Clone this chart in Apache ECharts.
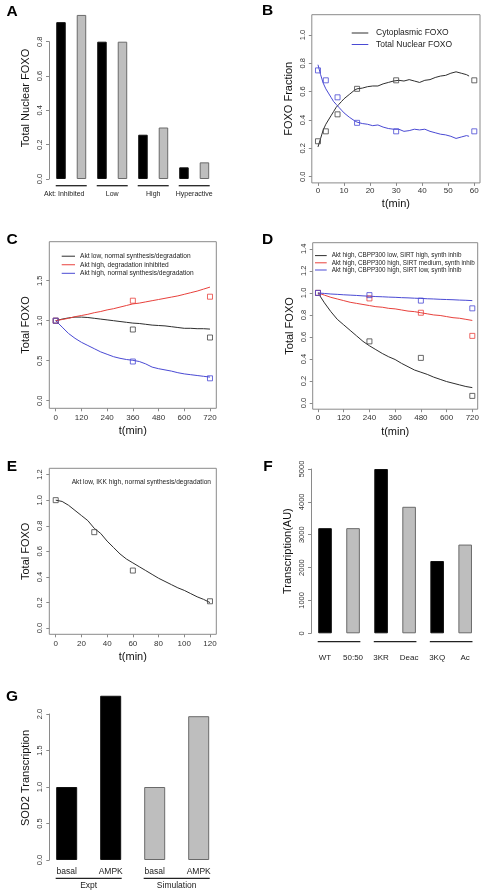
<!DOCTYPE html>
<html><head><meta charset="utf-8">
<script src="https://cdn.jsdelivr.net/npm/echarts@6/dist/echarts.min.js"></script>
<style>html,body{margin:0;padding:0;background:#fff}#c{width:482px;height:893px}</style>
</head><body><div id="c"></div>
<script>
// ---------- DATA ----------
// Panel A
const aValues = [0.914, 0.956, 0.80, 0.80, 0.258, 0.30, 0.068, 0.097];
const aGroupLabels = ['Akt: Inhibited','Low','High','Hyperactive'];
// Panel B
const bTime = [0,1,2,3,4,5,6,7,8,9,10,12,14,15,17,19,21,23,25,27,29,31,33,35,37,39,41,43,45,47,49,51,53,55,57,58];
const bCyto = [0.21,0.27,0.33,0.37,0.40,0.43,0.46,0.49,0.51,0.53,0.55,0.58,0.61,0.62,0.625,0.635,0.64,0.64,0.655,0.665,0.675,0.68,0.675,0.685,0.675,0.665,0.68,0.685,0.70,0.71,0.715,0.73,0.74,0.73,0.72,0.71];
const bNuc = [0.79,0.72,0.66,0.62,0.59,0.56,0.53,0.51,0.49,0.47,0.45,0.42,0.395,0.385,0.375,0.37,0.36,0.365,0.35,0.34,0.335,0.335,0.32,0.325,0.335,0.33,0.335,0.32,0.31,0.30,0.295,0.285,0.27,0.28,0.29,0.285];
const bObsTime = [0,3,7.5,15,30,60];
const bObsCyto = [0.25,0.32,0.44,0.62,0.68,0.68];
const bObsNuc = [0.75,0.68,0.56,0.38,0.32,0.32];
const bXTicks = [0,10,20,30,40,50,60];
const bYTicks = [0,0.2,0.4,0.6,0.8,1.0];
// Panel C
const cTime = [0,30,60,90,120,150,180,210,240,270,300,330,360,390,420,450,480,510,540,570,600,630,660,690,720];
const cAktLow = [1.0,1.02,1.035,1.045,1.045,1.04,1.03,1.02,1.01,1.0,0.99,0.98,0.97,0.965,0.955,0.945,0.94,0.935,0.925,0.915,0.905,0.905,0.9,0.9,0.895];
const cDegInh = [1.0,1.015,1.03,1.05,1.065,1.08,1.10,1.115,1.135,1.15,1.17,1.19,1.21,1.22,1.235,1.25,1.265,1.28,1.295,1.31,1.33,1.35,1.37,1.395,1.42];
const cAktHigh = [1.0,0.92,0.84,0.78,0.73,0.69,0.65,0.61,0.58,0.55,0.53,0.515,0.505,0.49,0.46,0.42,0.40,0.385,0.37,0.35,0.335,0.325,0.315,0.305,0.295];
const cObsTime = [0,360,720];
const cObsAktLow = [1.0,0.89,0.79];
const cObsDegInh = [1.0,1.25,1.30];
const cObsAktHigh = [1.0,0.49,0.28];
const cXTicks = [0,120,240,360,480,600,720];
const cYTicks = [0,0.5,1.0,1.5];
// Panel D
const dTime = [0,30,60,90,120,150,180,210,240,270,300,330,360,390,420,450,480,510,540,570,600,630,660,690,720];
const dSirtHigh = [1.0,0.91,0.83,0.76,0.71,0.66,0.61,0.56,0.52,0.485,0.45,0.42,0.395,0.36,0.33,0.30,0.28,0.26,0.235,0.215,0.195,0.18,0.165,0.15,0.14];
const dSirtMed = [1.0,0.98,0.96,0.945,0.93,0.915,0.905,0.895,0.885,0.875,0.87,0.86,0.855,0.845,0.835,0.83,0.82,0.81,0.80,0.795,0.785,0.775,0.77,0.76,0.75];
const dSirtLow = [1.0,0.995,0.99,0.987,0.983,0.98,0.977,0.973,0.97,0.967,0.965,0.962,0.96,0.957,0.955,0.952,0.95,0.947,0.945,0.942,0.94,0.938,0.935,0.933,0.93];
const dObsTime = [0,240,480,720];
const dObsSirtHigh = [1.0,0.56,0.41,0.065];
const dObsSirtMed = [1.0,0.95,0.82,0.61];
const dObsSirtLow = [1.0,0.98,0.93,0.86];
const dXTicks = [0,120,240,360,480,600,720];
const dYTicks = [0,0.2,0.4,0.6,0.8,1.0,1.2,1.4];
// Panel E
const eTime = [0,5,10,15,20,25,30,35,40,45,50,55,60,65,70,75,80,85,90,95,100,105,110,115,120];
const eIkkHigh = [1.0,0.99,0.96,0.92,0.88,0.84,0.78,0.74,0.68,0.63,0.58,0.54,0.51,0.48,0.45,0.42,0.39,0.365,0.34,0.315,0.295,0.27,0.245,0.225,0.20];
const eObsTime = [0,30,60,120];
const eObsIkkHigh = [1.0,0.75,0.45,0.21];
const eXTicks = [0,20,40,60,80,100,120];
const eYTicks = [0,0.2,0.4,0.6,0.8,1.0,1.2];
// Panel F
const fCategories = ['WT','50:50','3KR','Deac','3KQ','Ac'];
const fValues = [3200,3200,5000,3850,2200,2700];
// Panel G
const gCategories = ['basal','AMPK','basal','AMPK'];
const gValues = [1.0,2.25,1.0,1.97];
const gGroupLabels = ['Expt','Simulation'];

// ---------- STYLE ----------
const FONT = '"Liberation Sans", Arial, Helvetica, sans-serif';
const AX = '#8a8a8a', TXT = '#333';
const C_BLACK = '#2e2e2e', C_RED = '#e8413c', C_BLUE = '#4a4ad4';
const BAR_DARK = '#000', BAR_LIGHT = '#bebebe', BAR_EDGE = '#6a6a6a';
const fmt1 = v => v.toFixed(1);
const zip = (xs, ys) => xs.map((x, i) => [x, ys[i]]);

const chart = echarts.init(document.getElementById('c'), null, {renderer: 'canvas'});

const grids = [
  {left: 49, top: 41.7, width: 165.7, height: 137.3},                   // 0 A
  {left: 311.8, top: 14.7, width: 168.2, height: 168.2, show: true},    // 1 B (box)
  {left: 49.3, top: 241.7, width: 167, height: 166.6, show: true},      // 2 C (box)
  {left: 312.7, top: 242.7, width: 165, height: 166.5, show: true},     // 3 D (box)
  {left: 49.3, top: 468.3, width: 167, height: 166, show: true},        // 4 E (box)
  {left: 311, top: 469, width: 168.2, height: 164.3},                   // 5 F
  {left: 49.3, top: 714, width: 171.4, height: 146}                     // 6 G
].map(g => Object.assign({borderColor: AX, borderWidth: 1, backgroundColor: 'transparent'}, g));

const tickStyle = {show: true, length: 3, inside: false, lineStyle: {color: AX}};
const nameStyle = {fontSize: 11, color: '#111', fontFamily: FONT};

function timeAxis(gridIndex, min, max, ticks, margin, nameGap) {
  return {type: 'value', gridIndex, min, max, position: 'bottom',
    axisLine: {show: false, onZero: false}, splitLine: {show: false},
    axisTick: Object.assign({customValues: ticks}, tickStyle),
    axisLabel: {customValues: ticks, fontSize: 8, color: TXT, fontFamily: FONT, margin},
    name: 't(min)', nameLocation: 'middle', nameGap, nameTextStyle: nameStyle};
}
function boxedY(gridIndex, min, max, ticks, name) {
  return {type: 'value', gridIndex, min, max, position: 'left',
    axisLine: {show: false, onZero: false}, splitLine: {show: false},
    axisTick: Object.assign({customValues: ticks}, tickStyle),
    axisLabel: {customValues: ticks, fontSize: 7.5, color: TXT, fontFamily: FONT, rotate: 90, margin: 5, formatter: fmt1},
    name, nameLocation: 'middle', nameGap: 17.5, nameTextStyle: nameStyle};
}
function plainY(gridIndex, max, interval, name, shift, fmt) {
  return {type: 'value', gridIndex, min: 0, max, interval, position: 'left',
    axisLine: {show: true, onZero: false, lineStyle: {color: AX}}, splitLine: {show: false},
    axisTick: tickStyle,
    axisLabel: {fontSize: 7.5, color: TXT, fontFamily: FONT, rotate: 90, margin: 5, formatter: fmt},
    name, nameLocation: 'middle', nameGap: 17.5,
    nameTextStyle: Object.assign({padding: [0, 0, 0, shift]}, nameStyle)};
}
// value axis for bar positions (bar k sits at x = k); labels at chosen positions
function barPosAxis(gridIndex, min, max, labelPos, labelOf, margin, fontSize) {
  return {type: 'value', gridIndex, min, max, position: 'bottom',
    axisLine: {show: false, onZero: false}, axisTick: {show: false}, splitLine: {show: false},
    axisLabel: {show: true, customValues: labelPos, fontSize, color: '#222', fontFamily: FONT, margin,
      showMinLabel: true, showMaxLabel: true, formatter: labelOf,
      rich: {shift: {padding: [0, 14, 0, 0], fontSize, color: '#222', fontFamily: FONT}}}};
}
function barStyle(dark) {
  return dark ? {color: BAR_DARK, borderColor: '#111', borderWidth: 1}
              : {color: BAR_LIGHT, borderColor: BAR_EDGE, borderWidth: 1};
}
function lineSeries(name, xi, yi, xs, ys, color) {
  return {type: 'line', name, xAxisIndex: xi, yAxisIndex: yi, data: zip(xs, ys), showSymbol: false,
    symbol: 'none', itemStyle: {color}, lineStyle: {color, width: 1}, z: 3};
}
function obsSeries(name, xi, yi, xs, ys, color) {
  return {type: 'scatter', name, xAxisIndex: xi, yAxisIndex: yi, data: zip(xs, ys), symbol: 'rect',
    symbolSize: 5, itemStyle: {color: 'rgba(0,0,0,0)', borderColor: color, borderWidth: 1}, z: 4};
}
function legendBlock(names, left, top, itemWidth, fontSize, itemGap, textShift) {
  return {data: names, left, top, orient: 'vertical', icon: 'rect', itemWidth, itemHeight: 1, itemGap,
    padding: 0, selectedMode: false,
    textStyle: {fontSize, color: '#222', fontFamily: FONT, padding: [0, 0, 0, textShift || 0]}};
}

const cNames = ['Akt low, normal synthesis/degradation','Akt high, degradation inhibited','Akt high, normal synthesis/degradation'];
const dNames = ['Akt high, CBPP300 low, SIRT high, synth inhib','Akt high, CBPP300 high, SIRT medium, synth inhib','Akt high, CBPP300 high, SIRT low, synth inhib'];

// bar positions (index k) and group-centre label positions derived from the bar counts
const aPos = aValues.map((_, k) => k);
const aGroupPos = aGroupLabels.map((_, k) => 2 * k + 0.5);
const gPos = gValues.map((_, k) => k);
const gGroupPos = gGroupLabels.map((_, k) => 2 * k + 0.5);
const groupIndex = v => Math.round((v - 0.5) / 2);

const option = {
  animation: false,
  backgroundColor: '#fff',
  textStyle: {fontFamily: FONT},
  grid: grids,
  xAxis: [
    barPosAxis(0, -0.585, 7.5, aGroupPos,
      v => { const k = groupIndex(v); return k === 0 ? '{shift|' + aGroupLabels[k] + '}' : aGroupLabels[k]; }, 11.5, 7), // 0 A
    timeAxis(1, -2.38, 62.19, bXTicks, 4, 15.3),        // 1 B
    timeAxis(2, -29.9, 749.4, cXTicks, 5, 17.2),        // 2 C
    timeAxis(3, -24.7, 745.2, dXTicks, 4.2, 17),        // 3 D
    timeAxis(4, -4.98, 124.9, eXTicks, 5.5, 17.2),      // 4 E
    {type: 'category', gridIndex: 5, data: fCategories, position: 'bottom',
      axisLine: {show: false, onZero: false}, axisTick: {show: false}, splitLine: {show: false},
      axisLabel: {fontSize: 8, color: '#222', fontFamily: FONT, margin: 20.5, interval: 0}}, // 5 F
    barPosAxis(6, -0.395, 3.5, gPos, v => gCategories[Math.round(v)], 7.5, 8.5),        // 6 G bars
    barPosAxis(6, -0.395, 3.5, gGroupPos, v => gGroupLabels[groupIndex(v)], 21.5, 8.5) // 7 G groups
  ],
  yAxis: [
    plainY(0, 0.8, 0.2, 'Total Nuclear FOXO', 24.7, fmt1),           // 0 A
    boxedY(1, -0.0438, 1.143, bYTicks, 'FOXO Fraction'),             // 1 B
    boxedY(2, -0.095, 1.9875, cYTicks, 'Total FOXO'),                // 2 C
    boxedY(3, -0.056, 1.456, dYTicks, 'Total FOXO'),                 // 3 D
    boxedY(4, -0.048, 1.249, eYTicks, 'Total FOXO'),                 // 4 E
    plainY(5, 5000, 1000, 'Transcription(AU)', 0, v => String(v)),   // 5 F
    plainY(6, 2.0, 0.5, 'SOD2 Transcription', 18, fmt1)              // 6 G
  ],
  legend: [
    legendBlock(['Cytoplasmic FOXO','Total Nuclear FOXO'], 351.7, 28.5, 16.6, 8.5, 2.5, 2.7),
    legendBlock(cNames, 61.7, 252.7, 13.3, 6.6, 1.55),
    legendBlock(dNames, 315, 252.6, 11.7, 6.3, 1.2)
  ],
  series: [
    {type: 'bar', name: 'Total Nuclear FOXO (A)', xAxisIndex: 0, yAxisIndex: 0, barWidth: 9.5, clip: false,
      data: aValues.map((v, i) => ({value: [aPos[i], v], itemStyle: barStyle(i % 2 === 0)}))},
    lineSeries('Cytoplasmic FOXO', 1, 1, bTime, bCyto, C_BLACK),
    lineSeries('Total Nuclear FOXO', 1, 1, bTime, bNuc, C_BLUE),
    obsSeries('Cytoplasmic FOXO (data)', 1, 1, bObsTime, bObsCyto, '#444'),
    obsSeries('Total Nuclear FOXO (data)', 1, 1, bObsTime, bObsNuc, C_BLUE),
    lineSeries(cNames[0], 2, 2, cTime, cAktLow, C_BLACK),
    lineSeries(cNames[1], 2, 2, cTime, cDegInh, C_RED),
    lineSeries(cNames[2], 2, 2, cTime, cAktHigh, C_BLUE),
    obsSeries(cNames[0] + ' (data)', 2, 2, cObsTime, cObsAktLow, '#444'),
    obsSeries(cNames[1] + ' (data)', 2, 2, cObsTime, cObsDegInh, C_RED),
    obsSeries(cNames[2] + ' (data)', 2, 2, cObsTime, cObsAktHigh, C_BLUE),
    lineSeries(dNames[0], 3, 3, dTime, dSirtHigh, C_BLACK),
    lineSeries(dNames[1], 3, 3, dTime, dSirtMed, C_RED),
    lineSeries(dNames[2], 3, 3, dTime, dSirtLow, C_BLUE),
    obsSeries(dNames[0] + ' (data)', 3, 3, dObsTime, dObsSirtHigh, '#444'),
    obsSeries(dNames[1] + ' (data)', 3, 3, dObsTime, dObsSirtMed, C_RED),
    obsSeries(dNames[2] + ' (data)', 3, 3, dObsTime, dObsSirtLow, C_BLUE),
    lineSeries('Akt low, IKK high, normal synthesis/degradation', 4, 4, eTime, eIkkHigh, C_BLACK),
    obsSeries('Akt low, IKK high (data)', 4, 4, eObsTime, eObsIkkHigh, '#444'),
    {type: 'bar', name: 'Transcription(AU)', xAxisIndex: 5, yAxisIndex: 5, barWidth: 13.6, clip: false,
      data: fValues.map((v, i) => ({value: v, itemStyle: barStyle(i % 2 === 0)}))},
    {type: 'bar', name: 'SOD2 Transcription', xAxisIndex: 6, yAxisIndex: 6, barWidth: 21, clip: false,
      data: gValues.map((v, i) => ({value: [gPos[i], v], itemStyle: barStyle(i < 2)}))}
  ]
};
chart.setOption(option);

// ---------- annotations (letters, underlines, panel text) ----------
const gfx = [];
function letter(t, x, y) {
  gfx.push({type: 'text', x, y, style: {text: t, font: 'bold 15.5px ' + FONT, fill: '#000', align: 'center', verticalAlign: 'middle'}});
}
letter('A', 12, 12); letter('B', 267.5, 10.5); letter('C', 12, 240); letter('D', 267.5, 240);
letter('E', 12, 466.5); letter('F', 268, 467); letter('G', 12, 697);
gfx.push({type: 'text', x: 211, y: 482.3, style: {text: 'Akt low, IKK high, normal synthesis/degradation',
  font: '6.6px ' + FONT, fill: '#222', align: 'right', verticalAlign: 'middle'}});

function underline(finder, pairs, halfW, dy) {
  pairs.forEach(([i, j]) => {
    const p1 = chart.convertToPixel(finder, [i, 0]);
    const p2 = chart.convertToPixel(finder, [j, 0]);
    const y = p1[1] + dy;
    gfx.push({type: 'line', shape: {x1: p1[0] - halfW, y1: y, x2: p2[0] + halfW, y2: y},
      style: {stroke: '#222', lineWidth: 1.3}});
  });
}
underline({xAxisIndex: 0, yAxisIndex: 0}, [[0,1],[2,3],[4,5],[6,7]], 5.25, 6.7);
underline({xAxisIndex: 5, yAxisIndex: 5}, [[0,1],[2,3],[4,5]], 7.3, 8.4);
underline({xAxisIndex: 6, yAxisIndex: 6}, [[0,1],[2,3]], 11, 18.3);
chart.setOption({graphic: gfx});
</script></body></html>
